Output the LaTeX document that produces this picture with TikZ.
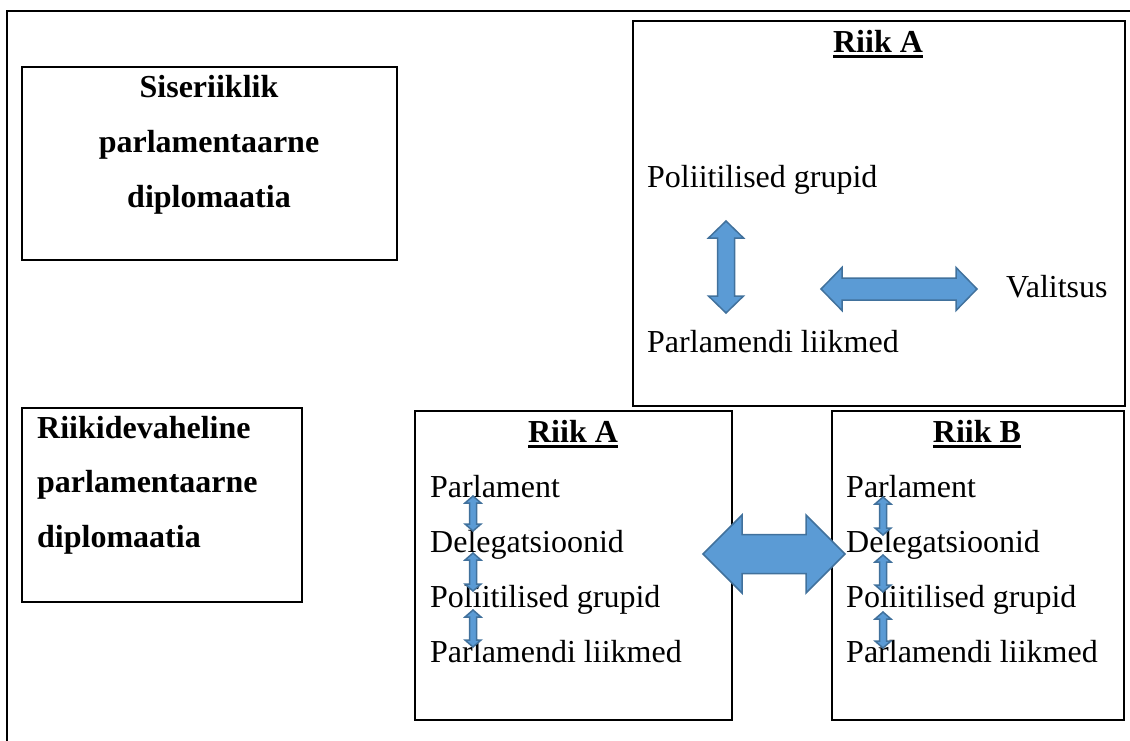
\documentclass[tikz,border=0pt]{standalone}
\usepackage{fontspec}
\setmainfont{Liberation Serif}
\definecolor{arrfill}{HTML}{5B9BD5}
\definecolor{arrdraw}{HTML}{41719C}
\newcommand{\ulbf}[1]{\setbox0\hbox{\bfseries #1}\rlap{\raisebox{-6pt}{\rule{\wd0}{2.8pt}}}\box0}
% horizontal double arrow: x1 x2 yc headlen headhalf shafthalf
\newcommand{\harr}[6]{%
  \draw[arr] (#1,#3) -- ({#1+#4},{#3-#5}) -- ({#1+#4},{#3-#6}) -- ({#2-#4},{#3-#6}) -- ({#2-#4},{#3-#5}) -- (#2,#3)
  -- ({#2-#4},{#3+#5}) -- ({#2-#4},{#3+#6}) -- ({#1+#4},{#3+#6}) -- ({#1+#4},{#3+#5}) -- cycle;}
% vertical double arrow: xc y1 y2 headlen headhalf shafthalf
\newcommand{\varr}[6]{%
  \draw[arr] (#1,#2) -- ({#1+#5},{#2+#4}) -- ({#1+#6},{#2+#4}) -- ({#1+#6},{#3-#4}) -- ({#1+#5},{#3-#4}) -- (#1,#3)
  -- ({#1-#5},{#3-#4}) -- ({#1-#6},{#3-#4}) -- ({#1-#6},{#2+#4}) -- ({#1-#5},{#2+#4}) -- cycle;}
\begin{document}
\begin{tikzpicture}[x=1pt,y=-1pt,
  box/.style={draw=black,line width=2pt,inner sep=0pt,rectangle},
  txt/.style={inner sep=0pt,font=\fontsize{32}{38}\selectfont},
  lt/.style={txt,anchor=base west},
  ct/.style={txt,anchor=base},
  arr/.style={fill=arrfill,draw=arrdraw,line width=1.5pt,line join=miter}]
\useasboundingbox (0,0) rectangle (1130,740);
% outer frame
\coordinate (fb) at (7,741);
\coordinate (ftl) at (7,11);
\coordinate (fr) at (1131,11);
\draw[line width=2pt] (fb) -- (ftl) -- (fr);
% boxes
\node[box,minimum width=375pt,minimum height=193pt] (sis) at (209.5,163.5) {};
\node[box,minimum width=492pt,minimum height=385pt] (topA) at (879,213.5) {};
\node[box,minimum width=280pt,minimum height=194pt] (rv) at (162,505) {};
\node[box,minimum width=317pt,minimum height=309pt] (smA) at (573.5,565.5) {};
\node[box,minimum width=292pt,minimum height=309pt] (smB) at (978,565.5) {};
% left texts
\node[ct,font=\fontsize{32}{38}\selectfont\bfseries] (s1) at (209,97) {Siseriiklik};
\node[ct,font=\fontsize{32}{38}\selectfont\bfseries] (s2) at (209,152) {parlamentaarne};
\node[ct,font=\fontsize{32}{38}\selectfont\bfseries] (s3) at (209,207) {diplomaatia};
\node[lt,font=\fontsize{32}{38}\selectfont\bfseries] (r1) at (37,438) {Riikidevaheline};
\node[lt,font=\fontsize{32}{38}\selectfont\bfseries] (r2) at (37,492) {parlamentaarne};
\node[lt,font=\fontsize{32}{38}\selectfont\bfseries] (r3) at (37,547) {diplomaatia};
% top Riik A
\node[ct] (tA) at (878,52) {\ulbf{Riik A}};
\node[lt] (tpg) at (647,187) {Poliitilised grupid};
\node[lt] (tpl) at (647,352) {Parlamendi liikmed};
\node[lt] (tval) at (1006,297) {Valitsus};
% small Riik A
\node[ct] (aT) at (573,442) {\ulbf{Riik A}};
\node[lt] (a1) at (430,497) {Parlament};
\node[lt] (a2) at (430,552) {Delegatsioonid};
\node[lt] (a3) at (430,607) {Poliitilised grupid};
\node[lt] (a4) at (430,662) {Parlamendi liikmed};
% small Riik B
\node[ct] (bT) at (977,442) {\ulbf{Riik B}};
\node[lt] (b1) at (846,497) {Parlament};
\node[lt] (b2) at (846,552) {Delegatsioonid};
\node[lt] (b3) at (846,607) {Poliitilised grupid};
\node[lt] (b4) at (846,662) {Parlamendi liikmed};
% arrows
\varr{726}{221}{313}{17}{17.5}{8.5}
\harr{821}{977}{289}{21}{21.5}{11}
\harr{703}{845}{554}{39}{39}{19.5}
\varr{473}{496}{531}{7}{8}{3.5}
\varr{473}{553}{591}{7}{8}{3.5}
\varr{473}{610}{647}{7}{8}{3.5}
\varr{883}{497}{535}{7}{8}{3.5}
\varr{883}{555}{592}{7}{8}{3.5}
\varr{883}{612}{648}{7}{8}{3.5}
\end{tikzpicture}
\end{document}
